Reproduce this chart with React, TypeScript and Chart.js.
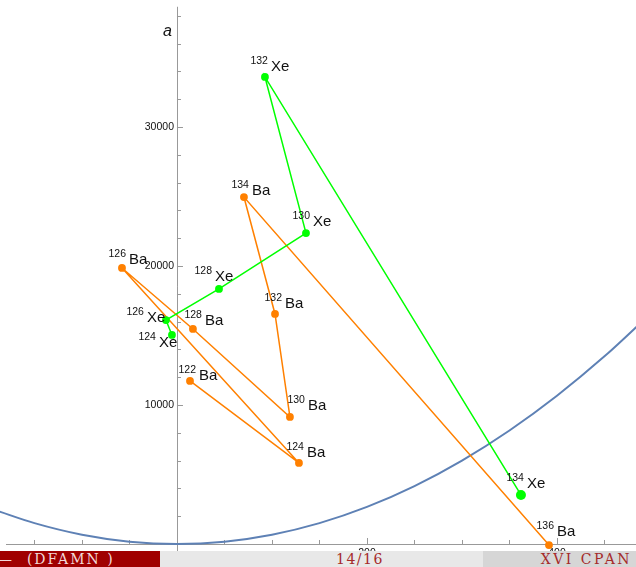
import React, { useEffect, useRef } from "react";
import { Chart, registerables } from "chart.js";

Chart.register(...registerables);

// ---- data ----
const baMass = [122, 124, 126, 128, 130, 132, 134, 136];
const baX = [13.7, 128.4, -57.9, 16.8, 118.9, 103.2, 70.5, 391.6];
const baY = [11730, 5830, 19860, 15470, 9140, 16550, 24960, -80];

const xeMass = [124, 126, 128, 130, 132, 134];
const xeX = [-5.3, -11.6, 44.2, 135.8, 92.6, 362.1];
const xeY = [15040, 16110, 18350, 22370, 33600, 3530];

const curveX = [-190, -150, -100, -50, 0, 50, 100, 150, 200, 250, 300, 350, 400, 450, 500];
const curveY = [2407, 1500, 667, 167, 0, 167, 667, 1500, 2667, 4167, 6000, 8167, 10667, 13500, 16667];

const yTickLabels = [10000, 20000, 30000];
const xTickLabels = [200, 400];

// label offsets (pixels, element text left / vertical centre relative to point)
const baLabelOffset = [[9, -5], [8, -10], [7, -8], [12, -8], [18, -11], [10, -10], [8, -6], [8, -13]];
const xeLabelOffset = [[-13, 8], [-19, -2], [-4, -12], [7, -11], [6, -10], [6, -11]];

const ORANGE = "#FF8000";
const GREEN = "#00FF00";
const BLUE = "#5E81B5";
const AXIS = "#999999";

const overlay = {
  id: "overlay",
  beforeDatasetsDraw(chart: any) {
    const ctx = chart.ctx;
    const xs = chart.scales.x;
    const ys = chart.scales.y;
    const ox = xs.getPixelForValue(0);
    const oy = ys.getPixelForValue(0);
    ctx.save();
    ctx.strokeStyle = AXIS;
    ctx.lineWidth = 1;
    // x axis
    ctx.beginPath();
    ctx.moveTo(6, Math.round(oy) + 0.5);
    ctx.lineTo(chart.width, Math.round(oy) + 0.5);
    ctx.stroke();
    // y axis
    const yTop = ys.getPixelForValue(38650);
    ctx.beginPath();
    ctx.moveTo(Math.round(ox) + 0.5, yTop);
    ctx.lineTo(Math.round(ox) + 0.5, chart.height);
    ctx.stroke();
    // x ticks
    for (let v = -150; v <= 450; v += 50) {
      if (v === 0) continue;
      const px = Math.round(xs.getPixelForValue(v)) + 0.5;
      const len = v % 200 === 0 ? 6 : 4;
      ctx.beginPath();
      ctx.moveTo(px, oy);
      ctx.lineTo(px, oy - len);
      ctx.stroke();
    }
    // y ticks
    for (let v = 2000; v <= 38000; v += 2000) {
      const py = Math.round(ys.getPixelForValue(v)) + 0.5;
      const len = v % 10000 === 0 ? 6 : 4;
      ctx.beginPath();
      ctx.moveTo(ox, py);
      ctx.lineTo(ox + len, py);
      ctx.stroke();
    }
    ctx.fillStyle = "#111";
    ctx.font = "10.5px 'Liberation Sans', Arial, sans-serif";
    ctx.textAlign = "right";
    ctx.textBaseline = "middle";
    yTickLabels.forEach((v) => {
      ctx.fillText(String(v), ox - 3, ys.getPixelForValue(v) + 0.5);
    });
    ctx.textAlign = "center";
    ctx.textBaseline = "top";
    xTickLabels.forEach((v) => {
      ctx.fillText(String(v), xs.getPixelForValue(v), oy + 4);
    });
    ctx.font = "italic 16px 'Liberation Sans', Arial, sans-serif";
    ctx.textAlign = "right";
    ctx.textBaseline = "middle";
    ctx.fillText("a", ox - 5, 32);
    ctx.restore();
  },
  afterDatasetsDraw(chart: any) {
    const ctx = chart.ctx;
    ctx.save();
    const drawLabels = (dsIndex: number, masses: number[], sym: string, offs: number[][]) => {
      const meta = chart.getDatasetMeta(dsIndex);
      meta.data.forEach((el: any, i: number) => {
        const ex = el.x + offs[i][0];
        const ey = el.y + offs[i][1];
        ctx.fillStyle = "#111";
        ctx.textBaseline = "middle";
        ctx.textAlign = "left";
        ctx.font = "15px 'Liberation Sans', Arial, sans-serif";
        ctx.fillText(sym, ex, ey);
        ctx.textAlign = "right";
        ctx.font = "10.5px 'Liberation Sans', Arial, sans-serif";
        ctx.fillText(String(masses[i]), ex - 3, ey - 6);
      });
    };
    drawLabels(1, baMass, "Ba", baLabelOffset);
    drawLabels(2, xeMass, "Xe", xeLabelOffset);
    ctx.restore();
  },
};

export default function App() {
  const ref = useRef<HTMLCanvasElement | null>(null);
  useEffect(() => {
    if (!ref.current) return;
    const chart = new Chart(ref.current, {
      type: "scatter",
      data: {
        datasets: [
          {
            label: "curve",
            data: curveX.map((x, i) => ({ x, y: curveY[i] })),
            showLine: true,
            borderColor: BLUE,
            borderWidth: 2,
            pointRadius: 0,
            cubicInterpolationMode: "monotone",
            order: 3,
          } as any,
          {
            label: "Ba",
            data: baX.map((x, i) => ({ x, y: baY[i] })),
            showLine: true,
            borderColor: ORANGE,
            backgroundColor: ORANGE,
            borderWidth: 1.5,
            pointRadius: 3.9,
            pointBorderWidth: 0,
            order: 2,
          },
          {
            label: "Xe",
            data: xeX.map((x, i) => ({ x, y: xeY[i] })),
            showLine: true,
            borderColor: GREEN,
            backgroundColor: GREEN,
            borderWidth: 1.5,
            pointRadius: [3.9, 3.9, 3.9, 3.9, 3.9, 5],
            pointBorderWidth: 0,
            order: 1,
          },
        ],
      },
      options: {
        animation: false,
        responsive: false,
        devicePixelRatio: 1,
        layout: { padding: 0, autoPadding: false },
        plugins: { legend: { display: false }, tooltip: { enabled: false } },
        scales: {
          x: { type: "linear", display: false, min: -186.3, max: 483.2 },
          y: { type: "linear", display: false, min: -1655, max: 39137 },
        },
      },
      plugins: [overlay],
    });
    return () => chart.destroy();
  }, []);

  const bar: React.CSSProperties = {
    position: "absolute",
    top: 0,
    height: 16,
    lineHeight: "16px",
    fontFamily: "'DejaVu Serif', 'Liberation Serif', serif",
    fontSize: 14,
    letterSpacing: 1.5,
    whiteSpace: "nowrap",
    overflow: "hidden",
  };

  return (
    <div style={{ position: "fixed", left: 0, top: 0, width: 636, height: 567, background: "#fff" }}>
      <canvas ref={ref} width={636} height={567} style={{ display: "block" }} />
      <div style={{ position: "absolute", left: 0, top: 551, width: 636, height: 16 }}>
        <div style={{ ...bar, left: 0, width: 160, background: "#A00000", color: "#F2D8D8" }}>
          <span style={{ position: "absolute", left: -2, letterSpacing: 2 }}>—&nbsp;&nbsp;(DFAMN )</span>
        </div>
        <div style={{ ...bar, left: 160, width: 323, background: "#E8E8E8", color: "#A52A2A" }}>
          <span style={{ position: "absolute", left: 176 }}>14/16</span>
        </div>
        <div style={{ ...bar, left: 483, width: 153, background: "#D6D6D6", color: "#A52A2A" }}>
          <span style={{ position: "absolute", right: 4, letterSpacing: 2.5 }}>XVI CPAN</span>
        </div>
      </div>
    </div>
  );
}
